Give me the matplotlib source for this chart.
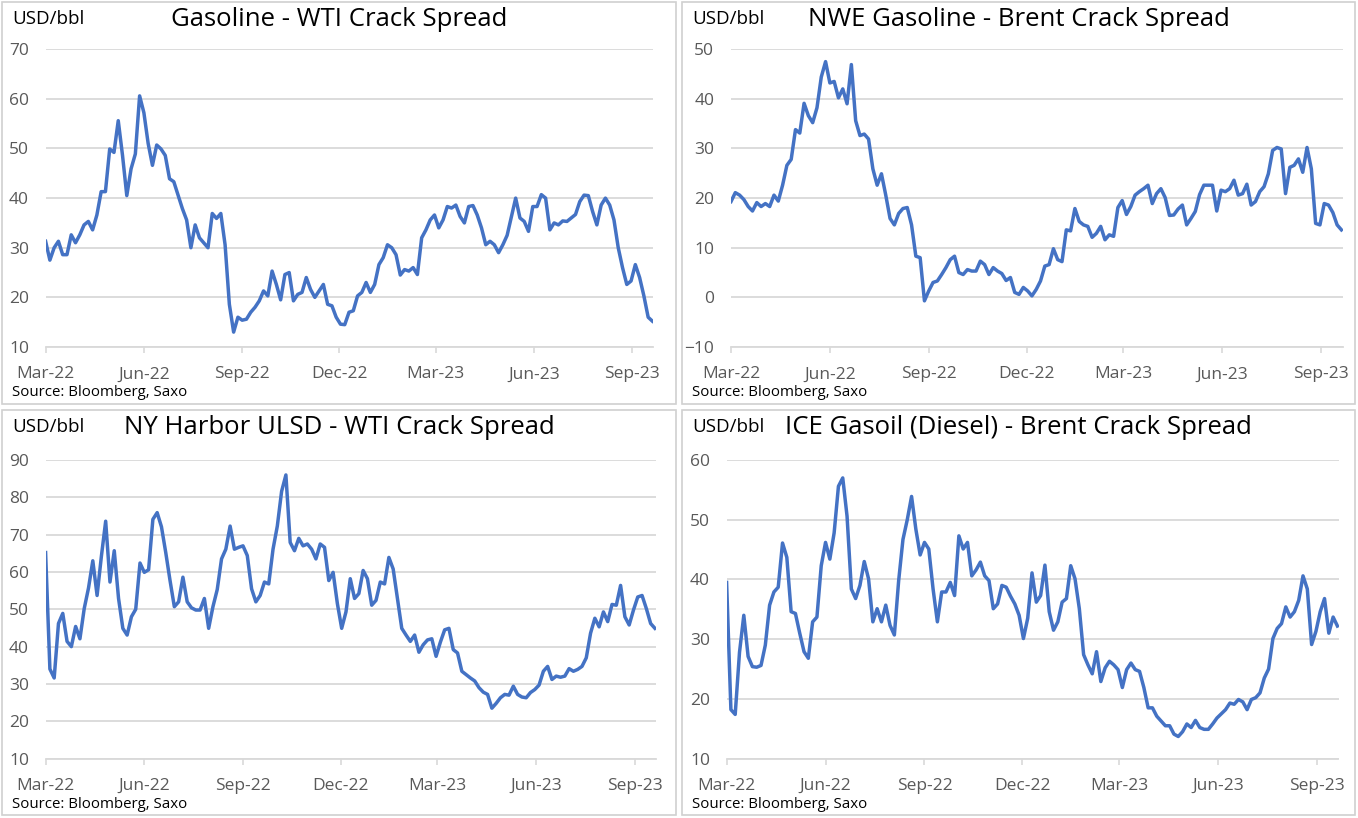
import pandas as pd
import numpy as np
import matplotlib
matplotlib.use('Agg')
import matplotlib.pyplot as plt
import matplotlib.dates as mdates
from matplotlib.patches import Rectangle

# dates: one reading every 4 days, Mar-22 to Sep-23
dates = pd.date_range('2022-03-01', periods=143, freq='4D')

# Gasoline - WTI crack spread (USD/bbl)
gasoline_wti = [31.3, 27.5, 30, 31.3, 28.6, 28.6, 32.6, 31, 32.6, 34.6,
                35.3, 33.6, 36.6, 41.3, 41.3, 49.9, 49.2, 55.6, 48.6, 40.5,
                45.9, 48.9, 60.6, 57.2, 51, 46.6, 50.7, 49.9, 48.6, 43.9,
                43.3, 40.6, 37.9, 35.6, 30, 34.6, 32, 31, 30, 36.9,
                35.9, 36.9, 30.6, 18.6, 13, 16, 15.4, 15.6, 17, 18,
                19.3, 21.3, 20.3, 25.3, 22.6, 19.5, 24.6, 25, 19.3, 20.6,
                21, 24, 21.6, 20, 21.3, 22.6, 18.6, 18.3, 16, 14.6,
                14.5, 17, 17.3, 20.3, 21, 23, 21, 22.6, 26.6, 28,
                30.6, 30, 28.6, 24.5, 25.6, 25.3, 26, 24.6, 32, 33.6,
                35.6, 36.6, 34, 35.6, 38.3, 38, 38.6, 36.3, 35, 38.3,
                38.5, 36.6, 34, 30.6, 31.3, 30.6, 29, 30.6, 32.5, 36.3,
                40, 36, 35.3, 33.3, 38.3, 38.3, 40.7, 40, 33.6, 35,
                34.6, 35.4, 35.3, 36, 36.7, 39.3, 40.6, 40.5, 37.3, 34.6,
                38.6, 40, 38.6, 35.6, 30, 26, 22.6, 23.3, 26.6, 24,
                20.3, 16, 15.2]

# NWE gasoline - Brent crack spread
nwe_gasoline = [19.3, 21.1, 20.6, 19.7, 18.3, 17.4, 19.1, 18.3, 18.9, 18.3,
                20.6, 19.4, 22.6, 26.6, 27.8, 33.8, 33.1, 39.1, 36.6, 35.2,
                38.2, 44.4, 47.5, 43.2, 43.5, 40.2, 42, 39, 46.9, 35.6,
                32.6, 32.9, 31.9, 25.9, 22.6, 24.9, 20.6, 15.9, 14.6, 16.9,
                17.9, 18.1, 14.6, 8.3, 8, -0.7, 1.3, 3, 3.3, 4.6,
                6, 7.6, 8.3, 5, 4.6, 5.6, 5.3, 5.3, 7.3, 6.6,
                4.6, 6, 5.3, 4.8, 3.4, 4, 1, 0.6, 2, 1.3,
                0.3, 1.6, 3.3, 6.3, 6.6, 9.8, 7.6, 7.2, 13.6, 13.4,
                17.9, 15.3, 14.6, 14.3, 12.1, 12.9, 14.3, 11.6, 12.6, 12.3,
                18.1, 19.5, 16.7, 18.3, 20.6, 21.3, 21.9, 22.6, 18.9, 20.9,
                21.9, 20.1, 16.5, 16.6, 17.8, 18.6, 14.6, 15.9, 17.3, 20.7,
                22.6, 22.6, 22.6, 17.4, 21.6, 21.3, 21.9, 23.6, 20.6, 20.9,
                22.8, 18.6, 19.3, 21.3, 22.3, 24.9, 29.6, 30.2, 29.9, 20.9,
                26.2, 26.6, 27.9, 25.2, 30.2, 25.9, 14.9, 14.6, 18.9, 18.6,
                17.1, 14.6, 13.6]

# NY Harbor ULSD - WTI crack spread
ulsd_wti = [65.2, 34, 31.6, 46.2, 48.9, 41.4, 40, 45.4, 42.1, 50.2,
            55.7, 63, 53.7, 64.2, 73.6, 57.3, 65.7, 52.9, 44.9, 43.1,
            48, 50, 62.4, 59.9, 60.6, 74.1, 75.9, 72.1, 65.2, 57.7,
            50.7, 52, 58.6, 52, 50.4, 49.8, 49.8, 52.9, 44.9, 50.7,
            55.3, 63.5, 66.1, 72.3, 66.1, 66.6, 67, 64.4, 55.5, 52,
            53.7, 57.3, 56.8, 66.1, 72.3, 81.6, 86, 67.9, 65.7, 69,
            67, 67.5, 66.1, 63.5, 67.5, 66.6, 57.7, 59.9, 51.5, 44.9,
            49.3, 58.2, 52.9, 54.2, 60.4, 58.2, 51.1, 52.4, 57.3, 56.8,
            63.9, 60.8, 52.9, 44.9, 43.1, 41.4, 43.1, 38.5, 40.5, 41.8,
            42.1, 37.4, 41.2, 44.5, 44.9, 39.2, 38.3, 33.4, 32.5, 31.6,
            30.8, 29, 27.8, 27.2, 23.5, 24.8, 26.3, 27.2, 27, 29.4,
            27.2, 26.5, 26.3, 27.7, 28.5, 29.7, 33.4, 34.7, 31.2, 32.1,
            31.8, 32.1, 34.1, 33.4, 33.9, 34.7, 37, 43.6, 47.6, 45.3,
            49.3, 46.7, 51.3, 51.1, 56.4, 48, 45.8, 49.8, 53.3, 53.7,
            50.2, 46.2, 44.9]

# ICE gasoil (diesel) - Brent crack spread
gasoil_brent = [39.5, 18.2, 17.4, 27.8, 34, 27.1, 25.4, 25.3, 25.6, 29,
                35.7, 37.9, 38.7, 46.1, 43.7, 34.6, 34.3, 31, 27.9, 26.8,
                32.9, 33.7, 42.3, 46.2, 43.4, 47.8, 55.6, 57, 50.6, 38.4,
                36.8, 39, 43, 40.1, 32.9, 35.1, 32.9, 35.7, 32.3, 30.7,
                39.8, 46.7, 50, 53.9, 48.4, 44.1, 46.2, 45.1, 38.4, 32.9,
                37.9, 37.9, 39.5, 37.3, 47.3, 45.1, 46.2, 40.6, 41.6, 42.9,
                40.6, 39.8, 35.1, 35.9, 39, 38.7, 37.2, 35.9, 34, 30.1,
                33.5, 41.1, 36.2, 37.3, 42.4, 34.6, 31.5, 32.9, 36.2, 36.8,
                42.3, 40.1, 35.1, 27.4, 25.7, 24.2, 27.9, 22.9, 25.2, 26.3,
                25.7, 24.9, 21.9, 24.9, 26, 24.9, 24.6, 21.9, 18.5, 18.5,
                17.1, 16.3, 15.5, 15.5, 14.1, 13.7, 14.5, 15.8, 15.2, 16.4,
                15.2, 14.9, 14.9, 15.8, 16.8, 17.5, 18.2, 19.3, 19.1, 19.9,
                19.5, 18.2, 19.9, 20.2, 21, 23.5, 25, 30.1, 31.8, 32.6,
                35.4, 33.7, 34.6, 36.5, 40.6, 38.4, 29.1, 31.3, 34.6, 36.8,
                31, 33.7, 32.2]

titles = ['Gasoline - WTI Crack Spread', 'NWE Gasoline - Brent Crack Spread',
          'NY Harbor ULSD - WTI Crack Spread', 'ICE Gasoil (Diesel) - Brent Crack Spread']
series = [gasoline_wti, nwe_gasoline, ulsd_wti, gasoil_brent]
ylims = [(10, 70), (-10, 50), (10, 90), (10, 60)]

W, H = 1358, 818
fig = plt.figure(figsize=(W / 100, H / 100), dpi=100)
plt.rcParams['font.family'] = ['Open Sans', 'DejaVu Sans']

# axes boxes in pixels: left, right, top, bottom
boxes = [(45.6, 653.5, 49.2, 347), (731, 1342.5, 49.2, 347),
         (45.6, 656, 460, 758.6), (726.6, 1338.5, 460, 758.6)]
# panel frames in pixels: left, right, top, bottom
frames = [(2, 676, 2, 404), (682, 1355, 2, 404),
          (2, 676, 410, 815), (682, 1355, 410, 815)]

ticks = pd.date_range('2022-03-01', '2023-09-01', freq='3MS')
line_col = '#4472C4'
grid_col = '#d9d9d9'
lab_col = '#595959'

for k in range(4):
    l, r, t, b = boxes[k]
    ax = fig.add_axes([l / W, 1 - b / H, (r - l) / W, (b - t) / H])
    ax.plot(dates, series[k], color=line_col, lw=2.5, solid_joinstyle='round')
    ax.set_xlim(pd.Timestamp('2022-03-01'), pd.Timestamp('2023-09-21'))
    ax.set_ylim(*ylims[k])
    ax.set_yticks(np.arange(ylims[k][0], ylims[k][1] + 1, 10))
    ax.set_xticks(ticks)
    ax.xaxis.set_major_formatter(mdates.DateFormatter('%b-%y'))
    ax.yaxis.grid(True, color=grid_col, lw=1.3)
    ax.set_axisbelow(True)
    for s in ['top', 'right', 'left']:
        ax.spines[s].set_visible(False)
    ax.spines['bottom'].set_color(grid_col)
    ax.spines['bottom'].set_linewidth(1.3)
    ax.tick_params(axis='x', colors=lab_col, labelsize=12.5, length=4,
                   width=1.2, color=grid_col, pad=10)
    ax.tick_params(axis='y', colors=lab_col, labelsize=12.5, length=0, pad=12)

    fl, fr, ft, fb = frames[k]
    fig.patches.append(Rectangle((fl / W, 1 - fb / H), (fr - fl) / W, (fb - ft) / H,
                                 transform=fig.transFigure, fill=False,
                                 edgecolor='#d0d0d0', lw=1.2))
    fig.text((fl + 10) / W, 1 - (ft + 17) / H, 'USD/bbl', fontsize=13.5,
             va='center', ha='left', color='black')
    fig.text((fl + fr) / 2 / W, 1 - (ft + 17) / H, titles[k], fontsize=18.5,
             va='center', ha='center', color='black')
    fig.text((fl + 10) / W, 1 - (fb - 11) / H, 'Source: Bloomberg, Saxo',
             fontsize=10.8, va='center', ha='left', color='black')

fig.savefig('out.png', dpi=100, facecolor='white')
